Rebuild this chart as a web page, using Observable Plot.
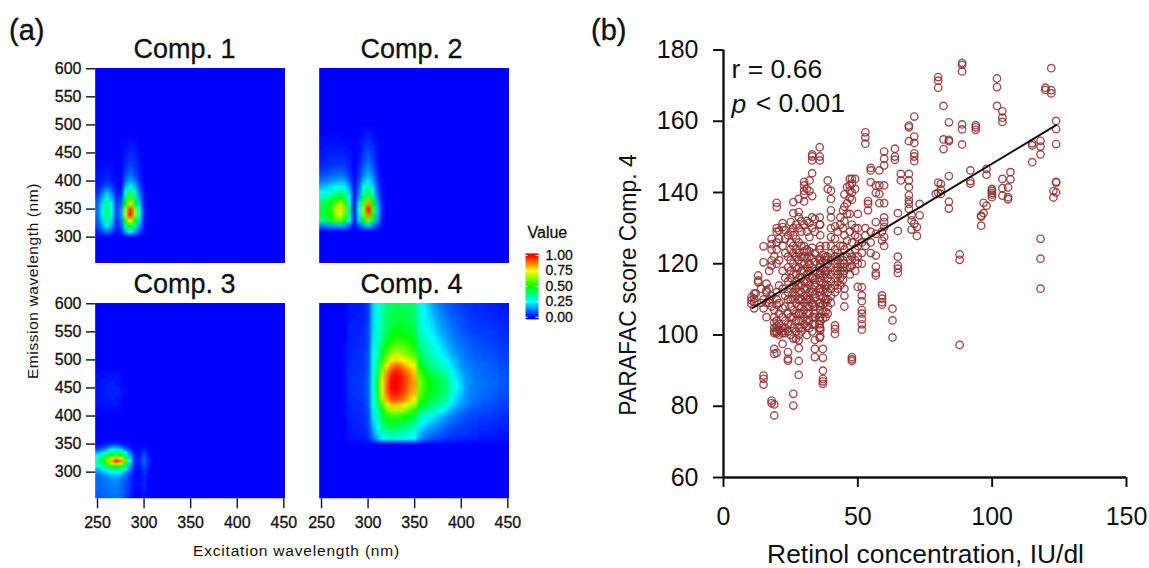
<!DOCTYPE html>
<html>
<head>
<meta charset="utf-8">
<script src="https://cdn.jsdelivr.net/npm/d3@7"></script>
<script src="https://cdn.jsdelivr.net/npm/@observablehq/plot@0.6"></script>
<style>
html,body{margin:0;padding:0;background:#fff;}
#root{position:relative;width:1149px;height:568px;overflow:hidden;font-family:"Liberation Sans",Arial,sans-serif;color:#111;}
#root svg{position:absolute;background:transparent;}
#root svg.heavy text{stroke:#111;stroke-width:.3px;}
.t{position:absolute;white-space:nowrap;line-height:1;}
</style>
</head>
<body>
<div id="root"></div>
<script>
// ---------- panel (a): excitation-emission maps, values in percent of max ----------
const comp1Rows = [
 [470,[0,0,0,0,0,0,1,2,1,0,0]],[460,[0,0,0,0,0,0,1,3,2,0,0]],[450,[0,0,0,0,0,0,2,4,3,1,0]],
 [440,[0,0,0,0,0,0,3,5,4,1,0]],[430,[0,1,1,1,0,0,4,7,5,2,0]],[420,[1,1,2,1,0,0,5,9,6,2,0]],
 [410,[1,2,3,2,0,0,8,12,8,3,0]],[400,[1,3,5,3,1,0,11,17,12,5,0]],[390,[2,5,9,6,1,0,18,27,19,8,1]],
 [380,[4,11,19,12,2,3,28,42,29,12,1]],[370,[7,17,30,18,4,6,40,58,40,16,2]],[360,[10,22,36,24,6,9,50,72,48,20,2]],
 [350,[11,24,40,26,6,14,66,95,62,26,3]],[340,[11,24,40,26,6,15,70,100,66,28,3]],[330,[9,20,34,21,5,11,53,76,50,21,2]],
 [320,[7,15,26,16,3,8,36,52,34,15,1]],[310,[3,7,12,7,1,4,17,26,17,7,1]]
];
const comp2Rows = [
 [490,[0,0,0,0,0,0,0,0,0,1,2,1,0,0]],[480,[0,0,1,1,1,0,0,0,0,2,3,2,0,0]],[470,[1,1,1,1,1,1,1,0,1,3,5,3,1,0]],
 [460,[1,2,2,2,2,2,1,0,1,4,6,4,1,0]],[450,[2,2,3,3,3,2,2,0,2,5,8,5,2,0]],[440,[2,3,4,4,4,4,2,0,2,6,10,6,2,0]],
 [430,[3,4,5,5,5,5,3,0,3,8,12,8,2,0]],[420,[5,6,7,8,8,7,4,0,4,10,15,10,3,0]],[410,[8,9,10,11,12,10,6,0,5,13,18,13,4,0]],
 [400,[12,13,15,17,18,16,10,0,7,18,23,17,5,1]],[390,[18,20,22,25,27,24,15,1,10,25,32,22,7,1]],[380,[25,28,30,34,36,32,20,1,13,33,42,30,10,2]],
 [370,[33,36,40,46,50,42,25,1,17,43,58,40,13,2]],[360,[40,44,50,60,68,55,32,2,22,58,85,50,17,3]],[350,[43,47,54,67,78,62,35,2,25,65,100,58,20,3]],
 [340,[42,46,52,64,72,58,33,2,23,60,88,52,18,3]],[330,[38,41,47,55,58,47,28,2,20,48,62,42,15,2]],[320,[12,13,15,17,18,15,9,0,7,15,20,13,5,1]]
];
const comp3Rows = [
 [480,[0,1,1,1,1,0,0]],[475,[1,1,1,2,1,1,0]],[470,[1,1,2,2,2,1,0]],[465,[1,2,2,2,2,1,0]],[460,[1,2,2,3,2,1,0]],
 [455,[1,2,3,3,2,1,0]],[450,[1,2,3,3,3,2,1]],[445,[1,2,3,3,3,2,1]],[440,[1,2,3,3,3,2,1]],[435,[1,2,3,3,2,2,1]],
 [430,[1,2,2,3,2,1,0]],[425,[1,2,2,2,2,1,0]],[420,[1,1,2,2,2,1,0]],[415,[1,1,1,1,1,1,0]],[410,[0,1,1,1,1,0,0]],
 [355,[0,0,1,1,1,1,0,0,0,0,0,0]],[350,[1,2,3,5,5,3,2,1,0,0,0,0]],[345,[3,5,9,14,15,11,5,2,0,0,1,0]],
 [340,[8,12,18,25,27,22,13,6,1,1,3,1]],[335,[16,22,30,37,40,36,25,11,2,2,6,1]],[330,[24,33,42,50,56,50,37,16,2,2,8,2]],
 [325,[30,43,56,72,82,72,52,22,3,3,9,3]],[320,[33,48,62,82,100,88,62,26,3,4,10,3]],[315,[30,43,54,68,80,70,50,21,3,3,9,3]],
 [310,[24,32,40,47,52,47,34,15,2,2,8,2]],[305,[18,23,30,35,38,34,24,11,2,2,6,1]],[300,[14,17,22,25,27,24,16,8,1,1,5,1]],
 [295,[11,13,16,19,20,17,12,6,1,1,4,1]],[290,[10,11,13,15,16,14,10,5,1,1,3,1]],[285,[10,11,12,13,14,12,9,4,1,1,3,0]],
 [280,[10,11,12,13,13,12,8,4,1,1,3,0]],[275,[10,11,11,12,13,11,8,4,1,1,3,0]],[270,[10,10,11,12,12,11,8,4,1,0,3,0]],
 [265,[9,10,11,12,12,11,8,4,0,0,2,0]],[260,[9,10,10,11,11,10,7,3,0,0,2,0]],[255,[8,9,10,11,11,10,7,3,0,0,2,0]],[250,[8,9,10,11,11,10,7,3,0,0,2,0]]
];
const comp4Rows = [
 [600,[0,2,2,2,3,6,20,27,33,38,40,42,42,41,40,38,27,24,20,16,13,11,9,8,7,6,5,5,4,4,3,3,3,2,2,2]],
 [590,[0,2,2,2,3,6,20,27,33,39,41,43,43,42,41,39,28,25,21,17,14,12,10,8,7,6,6,5,4,4,4,3,3,3,2,2]],
 [580,[0,2,2,3,3,6,20,28,34,40,42,44,44,43,42,40,29,25,22,18,15,13,11,9,8,7,6,5,5,4,4,4,3,3,3,3]],
 [570,[0,2,3,3,3,6,21,28,34,40,43,45,45,44,43,41,30,26,23,20,16,14,12,10,9,8,7,6,5,5,5,4,4,4,3,3]],
 [560,[0,3,3,3,4,7,21,29,35,41,45,47,47,46,44,42,31,27,24,21,18,15,13,11,10,8,7,6,6,5,5,5,4,4,4,3]],
 [550,[0,3,3,3,4,7,21,30,35,42,47,49,49,47,46,44,32,28,26,23,19,16,14,12,10,9,8,7,6,6,6,6,5,5,4,4]],
 [540,[0,3,3,4,4,7,22,30,37,45,50,53,52,50,49,46,35,30,28,25,21,18,15,13,11,10,9,8,7,7,6,6,6,5,5,4]],
 [530,[1,3,3,4,4,7,23,31,40,49,54,57,56,55,52,49,37,32,30,27,23,20,17,14,12,11,10,9,8,7,7,7,6,6,5,5]],
 [520,[1,3,4,4,5,7,24,32,43,53,59,62,61,59,56,52,40,35,32,29,25,22,19,16,13,12,11,9,9,8,8,7,7,6,6,5]],
 [510,[1,3,4,4,5,8,25,33,47,59,66,69,67,64,60,56,42,37,34,31,27,24,21,17,15,13,11,10,9,9,8,8,7,7,6,6]],
 [500,[1,3,4,4,5,8,25,35,52,66,74,78,76,73,69,64,46,40,36,33,30,27,24,20,17,14,12,11,10,9,9,9,8,7,7,6]],
 [490,[1,4,4,5,5,8,26,38,58,76,86,90,88,82,77,72,50,44,40,37,33,30,27,22,18,15,13,12,11,10,10,9,9,8,7,7]],
 [480,[1,4,4,5,5,9,27,41,64,84,94,97,95,90,84,79,56,49,44,40,37,35,31,26,21,17,14,13,11,11,10,10,9,8,8,7]],
 [470,[1,4,5,5,6,9,28,43,69,88,98,100,98,93,87,82,60,53,48,44,41,38,35,28,23,19,15,13,12,11,11,10,9,9,8,8]],
 [460,[1,4,5,5,6,10,28,45,72,90,100,100,98,94,88,85,62,55,50,47,44,41,37,30,25,20,15,14,12,12,11,10,10,9,9,8]],
 [450,[1,4,5,5,6,10,28,45,72,90,100,100,97,92,86,84,62,55,50,47,44,41,38,30,25,21,15,13,12,11,11,10,9,9,8,8]],
 [440,[1,4,5,5,6,10,27,44,70,88,97,98,95,90,84,82,60,53,48,45,43,40,36,28,23,19,15,13,12,11,10,10,9,8,8,7]],
 [430,[1,4,4,5,5,9,26,42,66,84,92,93,91,86,80,76,55,50,45,43,40,38,33,26,21,17,14,12,11,10,10,9,8,8,7,7]],
 [420,[1,3,4,4,5,9,25,38,56,72,80,81,79,74,68,64,50,45,41,38,35,32,27,22,18,15,13,11,10,9,8,8,7,7,6,6]],
 [410,[1,3,4,4,5,8,23,34,48,60,66,68,66,62,57,52,42,37,34,31,28,25,21,17,14,12,10,9,8,8,7,7,6,6,5,5]],
 [400,[1,3,3,4,4,7,22,32,44,52,55,55,54,51,48,45,35,30,27,24,21,18,15,12,10,9,8,7,7,6,6,6,5,5,4,4]],
 [390,[0,3,3,3,4,7,20,30,40,45,47,48,46,44,41,38,29,25,22,19,16,14,12,10,9,8,7,6,6,5,5,5,4,4,4,3]],
 [380,[0,2,3,3,3,6,17,27,37,42,43,42,41,38,35,32,24,20,17,15,13,11,9,8,7,6,6,5,5,4,4,4,3,3,3,3]],
 [370,[0,2,2,3,3,5,14,22,30,33,34,33,33,31,28,26,19,15,13,11,10,9,7,6,5,5,5,4,4,3,3,3,3,2,2,2]],
 [360,[0,2,2,2,2,4,10,18,27,30,29,28,28,28,26,25,15,12,10,8,7,6,5,5,4,4,3,3,3,2,2,2,2,2,2,2]]
];
const panelTitles = ["Comp. 1","Comp. 2","Comp. 3","Comp. 4"];
const excitationTicks = [250,300,350,400,450];
const emissionTicks = [300,350,400,450,500,550,600];
const legendTicks = [0,25,50,75,100];
const colourStops = ["#0000ff","#00ffff","#00ff00","#ffff00","#ff0000"];

// ---------- panel (b): retinol (x) with the PARAFAC scores read in that column ----------
const scatterColumns = [
 [10.4,[110.6,109.7,108.7]],[11.4,[111.6,110.2,109.2,107.5]],[12,[111.7]],[12.9,[116.7,115.3,114.8]],[14,[109,113]],
 [14.9,[124.9,120.4,110,107.5,88.6,87.7,86.1]],[16,[114.4,112.5,112,109,105]],[17,[118,113,110,109]],
 [17.9,[127,125.5,124,120.9,119.5,111,108,81.6,80.9]],[18.9,[122,107,105,103.5,102,101,100.5,96.1,94.7,80.5,77.4]],
 [19.8,[137.1,135.9,130,129,126,124,120,112,110,108.5,104,102.5,101,100.5,95]],[20.7,[129.3,127,121,113.9,109,106,103,101.5,100]],
 [22,[131.4,130.3,125,118,113,107.5,105,102,101,100.5,97.5]],[23,[129.4,127,123,116,111,108,104,102,100.5]],
 [24,[128,122,119,115,112,110,106,103,101,95.2,93.3,92.8]],[25,[131.7,129,126,124,121,118,116,113,110,108,105,103,100]],
 [26,[137.3,134.2,130,128,125,123,120,117,114,112,110,107,105,102,99,83.5,80.2]],[27,[131,127,124,122,119,117,115,113,111,109,106,104,101,99]],
 [28,[138.2,134.5,133.1,130,126,123,121,119,116,114,112,110,108,106,104,102,100,98.5,96.3,92.7,88.8]],
 [29,[132,129,125,122,120,118,116,114,112,110,108,106,104,102,101]],
 [30,[143,142,140.5,139.5,137.5,131,125,123.5,122,120,118,115,113,111,109,107,105,103]],
 [31,[141,132,129,124,121.5,119,117,115,113,111,110,108,106,104,102.5,100]],
 [32,[143.4,140.4,131.5,127.5,123.5,122,120,118,116,114,112,110,108,106,104,102]],
 [33,[150.7,150.1,149,145.4,139,133,130,124.5,121.5,119,116.5,116,113,112,109,108.5,105,103,101]],
 [34,[132.5,129,123,120.5,118,115.5,114,111.5,110.5,108,106,105,103,98.6,96.1,93.8]],
 [35.8,[152.7,150.1,149,133,131,124,121.5,119,117,115,113,111,109,107,105,103,102,99.2]],
 [36,[131,128,125,121,120,117.5,116,113,112,109,108,105,104,102,101.3,99.6]],
 [37,[122.5,120.5,118.5,116.5,114.5,112.5,110.5,108.5,106.5,104.5,96.1,93.6,90,87.7,87,86.3]],
 [38,[125,122,121,118,117,114,113,110,109,106.5,105]],[38.8,[143.4,141,122,120,118,116,114,112,110,108,106]],
 [40,[140.5,138.2,135,133,130,127.5,125,123,121,119,117,115,113,111,109]],
 [41.5,[130.5,127,124,122,120,118,116,114,112,102.7,101.7,100.3]],[42.5,[129,123,121,119,117,115,113]],
 [43.5,[133,131,125,122,120,118,116,114]],[44.5,[135,130,125,121,119,117,115.5]],
 [45,[139.5,136,132,128,124,120,118,113,111,108]],[46,[141.5,137,134,126.5,122,119]],
 [47,[143.8,142,140.5,138.5,134,129,123,121,119,117]],[47.8,[143.8,142.5,140,138,131,126,122,119.5,93.8,93.2,92.7]],
 [49,[143.8,141,130,128,124,121,118]],[50,[134,130,127.5,125,122,120,113.5]],
 [51.5,[126,123,120,113.4,111.1,109.5,107,106,104.5,103,101.5]],[52.8,[156.9,155.5,153.7,130,128,125]],
 [53.8,[137.6,136.8,135]],[54.8,[146.9,146.2,142.9,129,126,123]],[56.7,[142,139.9,131.7,128.4,122.3,119.2,117.4,116.7]],
 [58,[146.2,142,139.6,137]],[59,[111.1,110.2,109.2,108.5,129,126.5]],[59.8,[151.5,149.5,147.6,142,137,133,131.7,130.3,127.5,125]],
 [62.9,[107.4,104.1,99.3]],[63.8,[152.3,150.1,149.2]],[64.9,[134.2,129.2,122,119.5,118.6,117.4]],[66,[145.2,143.4]],
 [69,[158.8,158.3,154.4,145.2,143.4,141.5,139.2,137.8,136.8,135.4]],[70,[133.6,132.2,129.6]],
 [71,[161.3,155.7,153.9,151,150.1,148.8,131.2]],[72,[130.3,127.8]],[73,[136.8,133.6]],
 [79,[139.6]],[79.9,[172.4,171.4,169.4,142.8,139.9]],[80.9,[142.4,140.8,139.6]],[81.9,[164.3,154.9,152.2]],
 [83.9,[159.7,154.8,154.4,144.6,137.4,135.5]],[87.9,[122.6,121.1,97.2]],[88.8,[176.4,175.8,174,159.1,157.7,153.5]],
 [91.9,[146.2,143.2,142.5]],[93.9,[158.9,158.3,157.6]],[95.9,[133.5,133.2,130.7]],[96.8,[137.1,134.2]],[97.9,[146.6,145,136.3]],
 [99.9,[141,140.5,139.9,139.4,138.7]],[101.8,[172,169.6,164.3]],[103.8,[162.8,161,159.8,143.8,141.2,139.1]],
 [105.9,[141.4,138.7,138.1]],[106.8,[145.7,143.7]],[114.9,[153.8,153.2,148.5]],
 [118,[154.5,152.9,150.7,127,121.4,113]],[119.8,[169.4,168.8]],[122,[174.9,168.7,167.8]],
 [122.8,[140.4,138.6]],[123.8,[160.1,157.8,153.6,143,142.8,140]]
];
const fitX = [10.9,123.8];
const fitY = [107.6,158.9];
const scatterXTicks = [0,50,100,150];
const scatterYTicks = [60,80,100,120,140,160,180];

const FONT = '"Liberation Sans",Arial,sans-serif';
const root = document.getElementById("root");
const colour = {type:"linear",domain:legendTicks,range:colourStops,clamp:true};

function place(svg,left,top,heavy){svg.style.left=left+"px";svg.style.top=top+"px";if(heavy)svg.classList.add("heavy");root.appendChild(svg);}
function label(text,left,top,size,extra){
  const d=document.createElement("div");d.className="t";d.textContent=text;
  d.style.cssText+=`left:${left}px;top:${top}px;font-size:${size}px;`+(extra||"");root.appendChild(d);
}
function gridFrom(rows,exStart,emStep){
  const W=41,H=Math.round(350/emStep)+1,v=new Array(W*H).fill(0);
  const c0=(exStart-250)/5;
  for(const [em,vals] of rows){const r=(600-em)/emStep;vals.forEach((x,i)=>{v[r*W+c0+i]=x;});}
  return {v,W,H};
}
function panel(rows,exStart,emStep,title,frameLeft,frameTop,showY,showX,titleDx){
  const {v,W,H}=gridFrom(rows,exStart,emStep);
  const ml=56,mt=40,mb=showX?50:0,fw=190,fh=195.3;
  const marks=[
    Plot.raster(v,{width:W,height:H,x1:247.5,x2:452.5,y1:600+emStep/2,y2:250-emStep/2,fill:Plot.identity,clip:true}),
    Plot.text([title],{frameAnchor:"top",dy:-19,lineAnchor:"middle",fontSize:27,fill:"#111",dx:titleDx})
  ];
  if(showY) marks.push(Plot.axisY(emissionTicks,{tickSize:9,tickPadding:5,fontSize:16,strokeWidth:1.4,label:null,color:"#111"}));
  if(showX) marks.push(Plot.axisX(excitationTicks,{tickSize:10,tickPadding:8,fontSize:16,strokeWidth:1.4,label:null,color:"#111"}));
  const svg=Plot.plot({
    width:ml+fw+12,height:mt+fh+mb,marginLeft:ml,marginRight:12,marginTop:mt,marginBottom:mb,
    style:{fontFamily:FONT,background:"transparent"},
    x:{domain:[247.85,451.8],axis:null},y:{domain:[252.5,600.5],axis:null},color:colour,marks
  });
  place(svg,frameLeft-ml,frameTop-mt,true);
}
panel(comp1Rows,250,10,panelTitles[0],95,67.7,true,false,-6);
panel(comp2Rows,250,10,panelTitles[1],319,67.7,false,false,-3);
panel(comp3Rows,250,5,panelTitles[2],95,303.3,true,true,-6);
panel(comp4Rows,275,10,panelTitles[3],319,303.3,false,true,-3);

// colour key
const keyLevels=d3.range(103,-4,-1);
place(Plot.plot({
  width:75,height:110,marginLeft:10,marginRight:52,marginTop:33,marginBottom:15.3,
  style:{fontFamily:FONT,background:"transparent"},
  x:{domain:[0,1],axis:null},y:{domain:[0,100],axis:null},color:colour,
  marks:[
    Plot.raster(keyLevels,{width:1,height:keyLevels.length,x1:0,x2:1,y1:103.5,y2:-3.5,fill:Plot.identity}),
    Plot.ruleY(legendTicks,{x1:0,x2:.2,stroke:"#fff",strokeWidth:1}),
    Plot.ruleY(legendTicks,{x1:.8,x2:1,stroke:"#fff",strokeWidth:1}),
    Plot.text(legendTicks,{x:1,y:d=>d,text:d=>(d/100).toFixed(2),dx:7,textAnchor:"start",fontSize:14,fill:"#111"}),
    Plot.text(["Value"],{x:0,y:100,dy:-23,dx:2,textAnchor:"start",fontSize:16,fill:"#111"})
  ]
}),515,222,true);

label("Emission wavelength (nm)",33,280.5,15.5,"letter-spacing:.6px;transform:translate(-50%,-50%) rotate(-90deg);");
label("Excitation wavelength (nm)",296.5,551,15.5,"letter-spacing:.8px;transform:translate(-50%,-50%);");
label("(a)",9,16,29,"-webkit-text-stroke:.4px #111;");
label("(b)",591,16,29,"-webkit-text-stroke:.4px #111;");

// scatter
const scatterPoints=scatterColumns.flatMap(([x,ys])=>ys.map(y=>({x,y})));
const fitLine=fitX.map((x,i)=>({x,y:fitY[i]}));
place(Plot.plot({
  width:559,height:568,marginLeft:133,marginRight:23,marginTop:49.5,marginBottom:91,
  style:{fontFamily:FONT,background:"transparent"},
  x:{domain:[0,150],axis:null},y:{domain:[60,180],axis:null},
  marks:[
    Plot.axisY(scatterYTicks,{tickSize:10,tickPadding:15,fontSize:25,strokeWidth:2,label:null,color:"#111"}),
    Plot.axisX(scatterXTicks,{tickSize:10,tickPadding:20,fontSize:25,strokeWidth:2,label:null,color:"#111"}),
    Plot.ruleX([0],{y1:60,y2:180,stroke:"#111",strokeWidth:2.4}),
    Plot.ruleY([60],{x1:0,x2:150,stroke:"#111",strokeWidth:2.4}),
    Plot.dot(scatterPoints,{x:"x",y:"y",r:3.7,stroke:"#8f3030",strokeWidth:1.4,strokeOpacity:.85,fill:"none"}),
    Plot.line(fitLine,{x:"x",y:"y",stroke:"#111",strokeWidth:2}),
    Plot.text(["r = 0.66"],{x:3,y:174.5,textAnchor:"start",fontSize:26.5,fill:"#111"}),
    Plot.text(["p"],{x:3,y:164.6,textAnchor:"start",fontSize:26.5,fontStyle:"italic",fill:"#111"}),
    Plot.text(["< 0.001"],{x:12,y:165,textAnchor:"start",fontSize:26.5,fill:"#111"})
  ]
}),590,0);
label("PARAFAC score Comp. 4",628,285,23,"transform:translate(-50%,-50%) rotate(-90deg);");
label("Retinol concentration, IU/dl",925.5,554,26.4,"transform:translate(-50%,-50%);");
</script>
</body>
</html>
